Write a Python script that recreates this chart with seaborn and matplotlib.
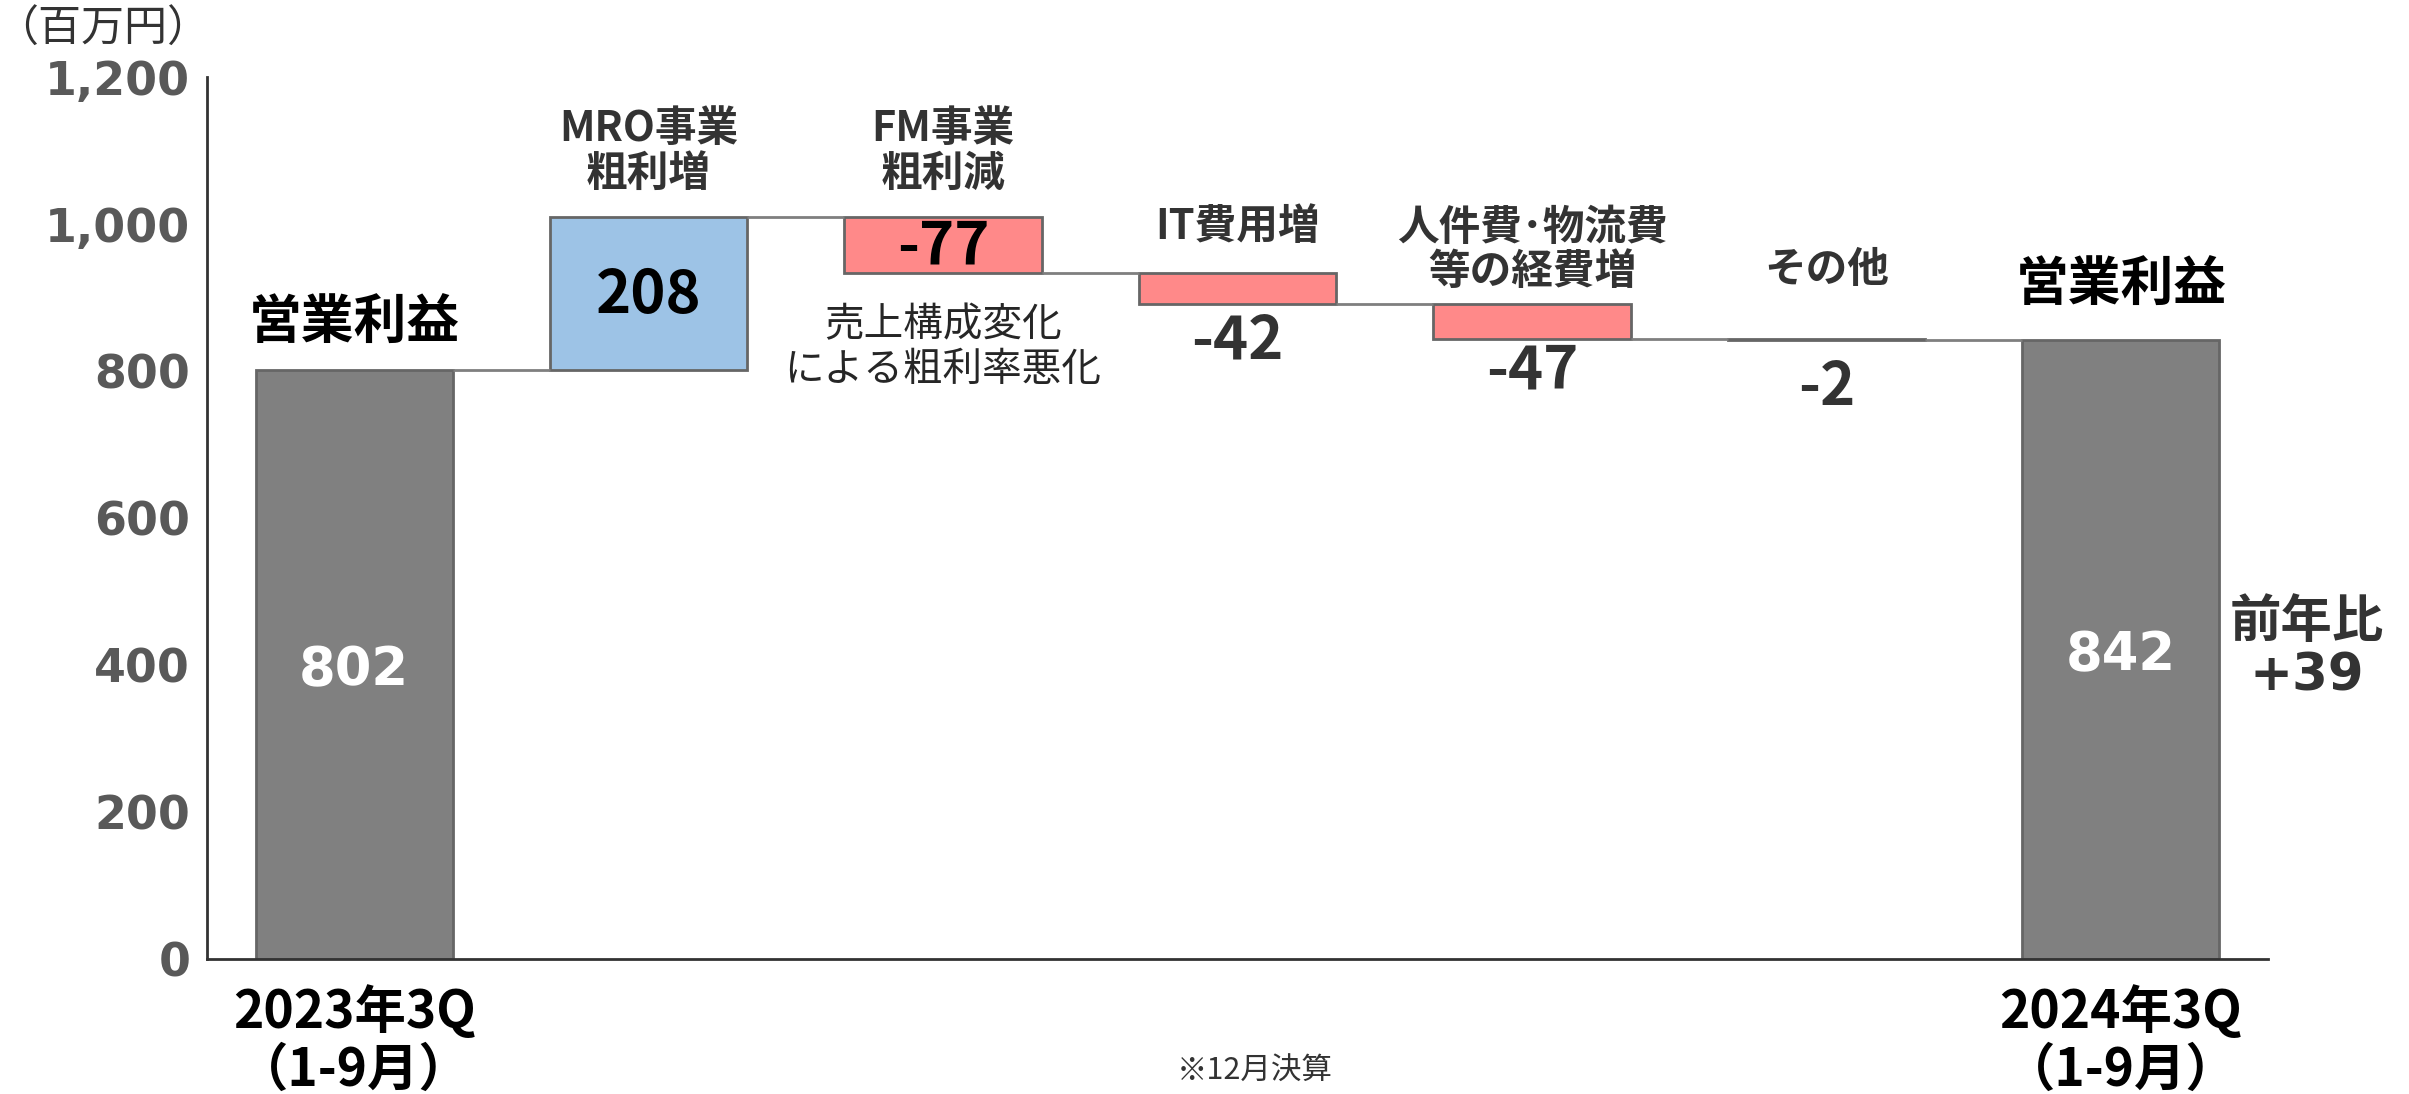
import numpy as np
import pandas as pd
import matplotlib.pyplot as plt
import seaborn as sns

sns.set_theme(style='white')
plt.rcParams['font.family'] = ['Noto Sans CJK JP', 'DejaVu Sans']

#### DATA ####
start_label = '2023年3Q\n（1-9月）'
end_label = '2024年3Q\n（1-9月）'
start_value = 802
end_value = 842
yoy_label = '前年比\n+39'
step_names = ['MRO事業\n粗利増', 'FM事業\n粗利減', 'IT費用増', '人件費･物流費\n等の経費増', 'その他']
step_values = [208, -77, -42, -47, -2]
y_ticks = [0, 200, 400, 600, 800, 1000, 1200]
total_title = '営業利益'
note_text = '売上構成変化\nによる粗利率悪化'
unit_text = '（百万円）'
footnote = '※12月決算'

#### WATERFALL TABLE ####
steps = np.array(step_values)
levels_before = start_value + np.concatenate([[0], np.cumsum(steps)[:-1]])
levels_after = start_value + np.cumsum(steps)

keys = ['start'] + ['step%d' % i for i in range(len(steps))] + ['end']
df = pd.DataFrame({
    'key': keys,
    'height': [start_value] + list(steps) + [end_value],
    'bottom': [0] + list(levels_before) + [0],
})

#### PLOT ####
fig = plt.figure(figsize=(24.09, 10.94), dpi=100)
ax = fig.add_axes([0.0859, 0.1234, 0.8556, 0.8062])

bar_w = 0.67
sns.barplot(data=df, x='key', y='height', order=keys, bottom=df['bottom'].values,
            width=bar_w, color='#808080', edgecolor='#666666', linewidth=2,
            errorbar=None, ax=ax)

face = ['#808080'] + ['#9DC3E6' if v > 0 else '#FF8989' for v in steps] + ['#808080']
for p, c in zip(ax.patches, face):
    p.set_facecolor(c)
    p.set_alpha(1)

# connectors
conn = [start_value] + list(levels_after)
for i, lv in enumerate(conn):
    ax.hlines(lv, i + bar_w / 2, i + 1 - bar_w / 2, color='#7f7f7f', lw=2, zorder=1)

ax.set_xlim(-0.5, 6.5)
ax.set_ylim(0, 1200)
ax.set_yticks(y_ticks)
ax.set_yticklabels([f'{v:,}' for v in y_ticks], fontsize=33, fontweight='bold',
                   color='#595959', family='DejaVu Sans')
ax.set_xticks(range(len(keys)))
ax.set_xticklabels([start_label] + [''] * len(steps) + [end_label],
                   fontsize=37, fontweight='bold', color='black')
for lbl in ax.get_xticklabels():
    lbl.set_linespacing(1.1)
ax.tick_params(axis='y', length=0, pad=12)
ax.tick_params(axis='x', length=0, pad=19)
ax.set_xlabel('')
ax.set_ylabel('')
sns.despine(ax=ax)
for s in ['left', 'bottom']:
    ax.spines[s].set_color('#333333')
    ax.spines[s].set_linewidth(2)

# totals
for x, v in [(0, start_value), (6, end_value)]:
    ax.annotate(str(v), (x, v / 2), xytext=(0, -4), textcoords='offset points',
                ha='center', va='center', fontsize=38, fontweight='bold',
                color='white', family='DejaVu Sans')
ax.annotate(total_title, (0, start_value), xytext=(0, 14), textcoords='offset points',
            ha='center', va='bottom', fontsize=38, fontweight='bold', color='black')
ax.annotate(total_title, (6, end_value), xytext=(0, 20), textcoords='offset points',
            ha='center', va='bottom', fontsize=38, fontweight='bold', color='black')

# step names
name_off = [16, 16, 18, 8, 34]
for i, (name, v) in enumerate(zip(step_names, steps)):
    top = max(levels_before[i], levels_after[i])
    ax.annotate(name, (i + 1, top), xytext=(0, name_off[i]), textcoords='offset points',
                ha='center', va='bottom', fontsize=30, fontweight='bold',
                color='#333333', linespacing=1.06)

# step values
val_off = [None, None, -5, -2, -13]
for i, v in enumerate(steps):
    if val_off[i] is None:
        ax.annotate(str(v), (i + 1, (levels_before[i] + levels_after[i]) / 2),
                    xytext=(0, -2), textcoords='offset points', ha='center',
                    va='center', fontsize=43, fontweight='bold', color='black')
    else:
        bot = min(levels_before[i], levels_after[i])
        ax.annotate(str(v), (i + 1, bot), xytext=(0, val_off[i]), textcoords='offset points',
                    ha='center', va='top', fontsize=43, fontweight='bold', color='#333333')

ax.annotate(note_text, (2, levels_after[1]), xytext=(0, -23), textcoords='offset points',
            ha='center', va='top', fontsize=28.5, color='#262626', linespacing=1.16)

ax.text(6.63, end_value / 2, yoy_label, ha='center', va='center', fontsize=37,
        fontweight='bold', color='#333333', family=['DejaVu Sans', 'Noto Sans CJK JP'],
        linespacing=1.1)

fig.text(0.0428, 0.9726, unit_text, ha='center', va='center', fontsize=31, color='#333333')
fig.text(0.521, 0.021, footnote, ha='center', va='center', fontsize=22, color='#333333')

fig.savefig('out.png', dpi=100)
